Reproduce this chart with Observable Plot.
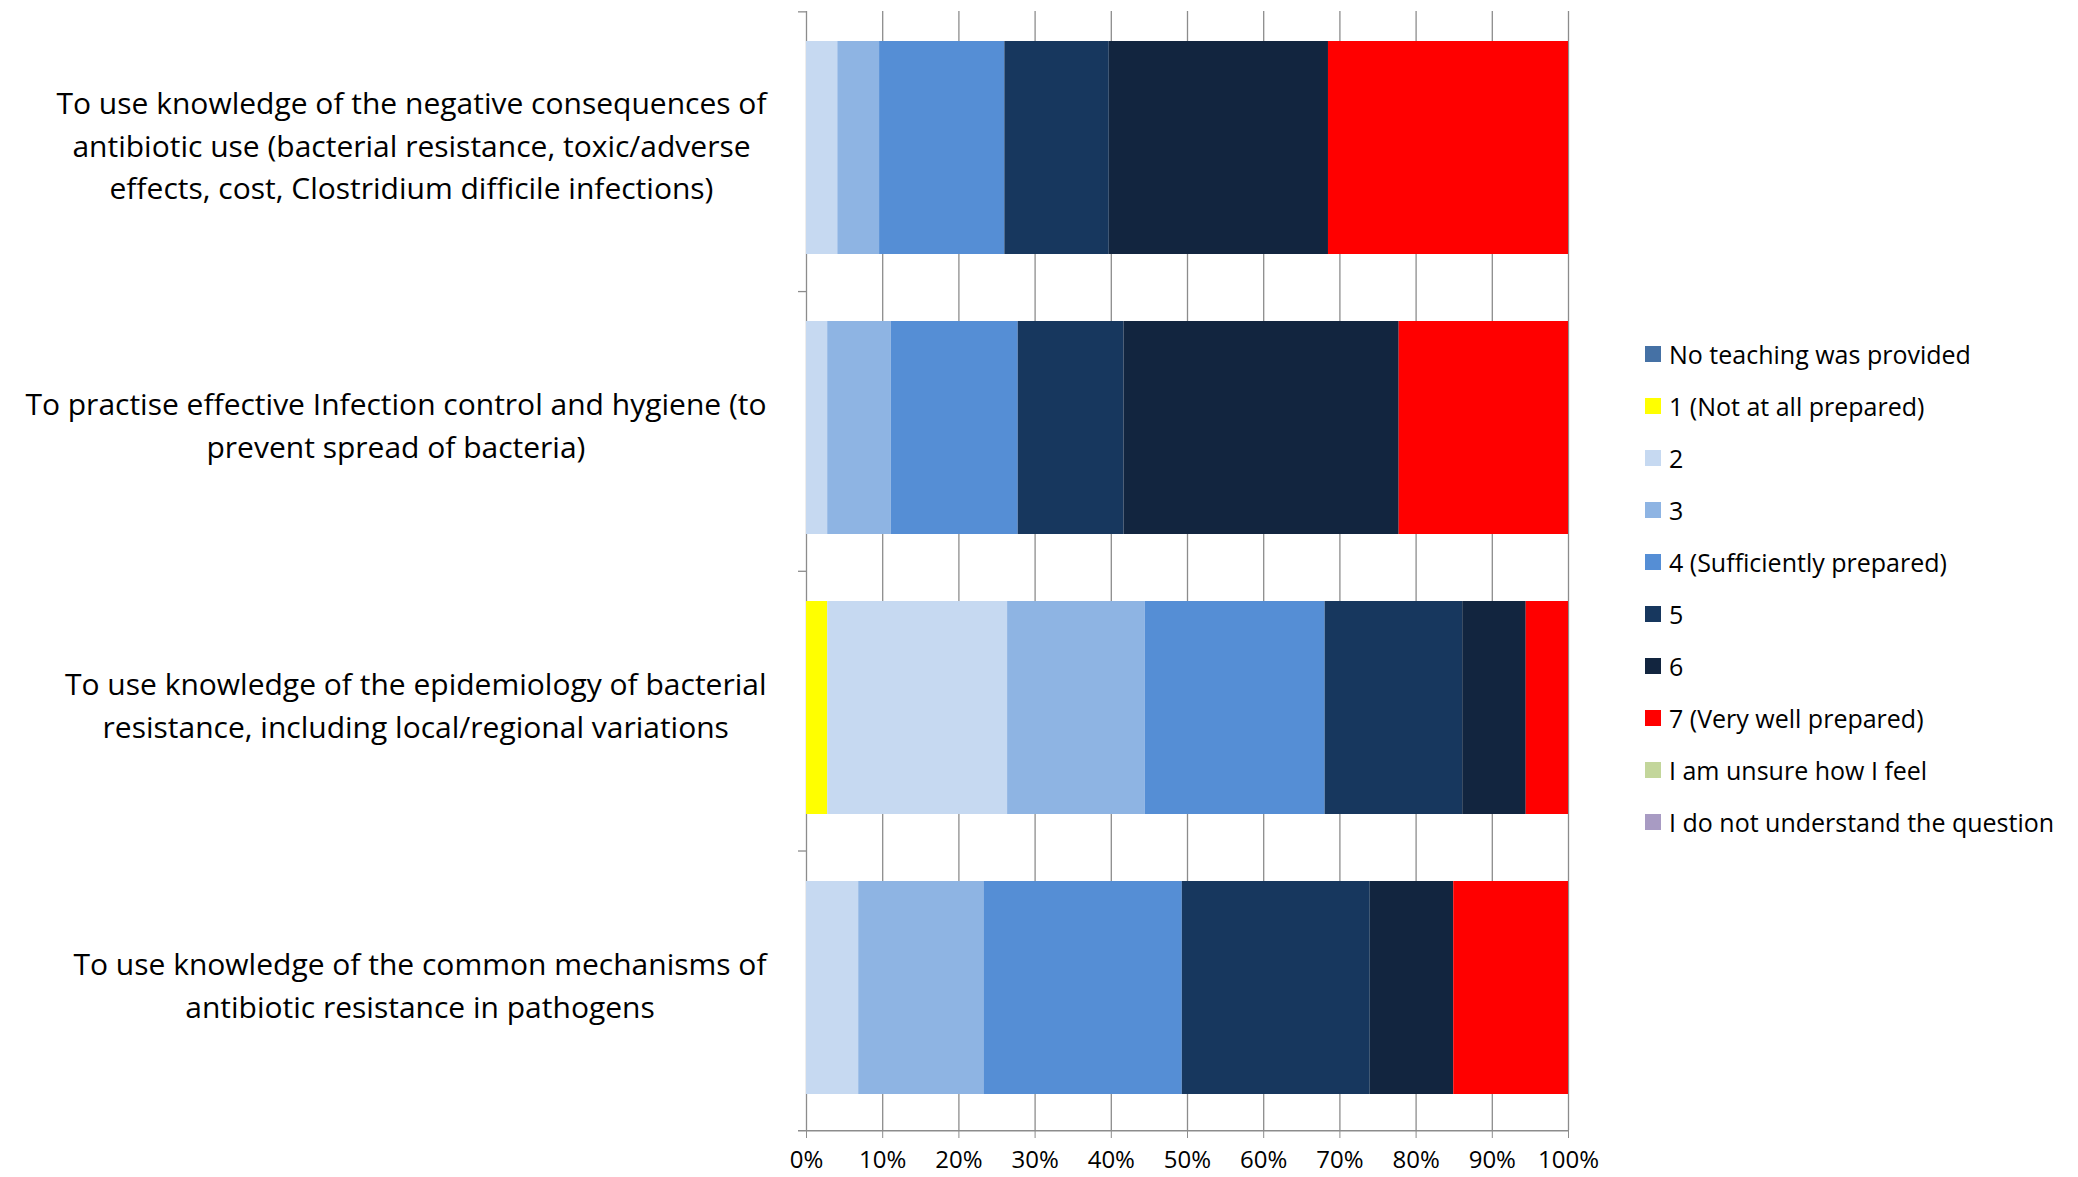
<!DOCTYPE html>
<html><head><meta charset="utf-8">
<script src="https://cdn.jsdelivr.net/npm/d3@7"></script>
<script src="https://cdn.jsdelivr.net/npm/@observablehq/plot@0.6"></script>
<style>
html,body{margin:0;padding:0;background:#fff;}
#wrap{position:relative;width:2078px;height:1177px;overflow:hidden;}
#legend{position:absolute;left:1645px;top:328px;font-family:'Open Sans',sans-serif;font-size:25px;color:#000;}
.li{display:flex;align-items:center;height:52px;white-space:nowrap;}
.sw{width:16px;height:16px;margin-right:8px;flex-shrink:0;}
</style></head><body><div id="wrap"><div id="chart"></div><div id="legend"></div></div>
<script>
// Categories (y axis, top to bottom)
const questions = [
  "To use knowledge of the negative consequences of\nantibiotic use (bacterial resistance, toxic/adverse\neffects, cost, Clostridium difficile infections)",
  "To practise effective Infection control and hygiene (to\nprevent spread of bacteria)",
  "To use knowledge of the epidemiology of bacterial\nresistance, including local/regional variations",
  "To use knowledge of the common mechanisms of\nantibiotic resistance in pathogens"
];
// Series (legend order = stacking order)
const levels = [
  "No teaching was provided", "1 (Not at all prepared)", "2", "3", "4 (Sufficiently prepared)",
  "5", "6", "7 (Very well prepared)", "I am unsure how I feel", "I do not understand the question"
];
const levelColors = ["#4571A5", "#FFFF00", "#C6D9F1", "#8EB4E3", "#558ED5", "#17375E", "#12253F", "#FF0000", "#C3D69B", "#A89BC3"];
// Percent values per question, in the order of `levels`
const q1Values = [0, 0, 4.11, 5.48, 16.44, 13.70, 28.77, 31.50, 0, 0];
const q2Values = [0, 0, 2.78, 8.33, 16.67, 13.89, 36.11, 22.22, 0, 0];
const q3Values = [0, 2.78, 23.61, 18.06, 23.61, 18.06, 8.33, 5.55, 0, 0];
const q4Values = [0, 0, 6.85, 16.44, 26.03, 24.66, 10.96, 15.06, 0, 0];
const xTicks = [0, 10, 20, 30, 40, 50, 60, 70, 80, 90, 100];

const allValues = [q1Values, q2Values, q3Values, q4Values];
const data = questions.flatMap((q, i) => levels.map((lv, j) => ({question: q, level: lv, value: allValues[i][j]})));

const W = 2078, H = 1177, mL = 806, mR = 510, mT = 11, mB = 47;
const pI = 0.24, pO = 0.118, align = 0.45;
const plotH = H - mT - mB;
const step = plotH / (questions.length - pI + 2 * pO);
const leftover = plotH - step * (questions.length - pI);
const catStep = plotH / questions.length;
const grey = "#8c8c8c";
const labelFont = 30;

// offset from each bar centre to the top boundary of its (evenly divided) category slot
const catOffsets = questions.map((q, i) => {
  const barCenter = leftover * align + step * i + step * (1 - pI) / 2;
  return -(barCenter - catStep * i);
});

const ctx = document.createElement("canvas").getContext("2d");
ctx.font = `${labelFont}px 'Open Sans'`;
const labelMarks = questions.map(q => {
  const w = Math.max(...q.split("\n").map(l => ctx.measureText(l).width));
  return Plot.text([q], {
    y: d => d, text: d => d, frameAnchor: "left", textAnchor: "middle",
    dx: -(40 + w / 2), dy: -5, lineHeight: 1.413, fontSize: labelFont, fill: "#000"
  });
});
const catTicks = questions.map((q, i) =>
  Plot.ruleY([q], {y: d => d, x1: -1.05, x2: 0, dy: catOffsets[i], stroke: grey, strokeWidth: 1.3}));
const lastQ = questions[questions.length - 1];

const chart = Plot.plot({
  width: W, height: H,
  marginLeft: mL, marginRight: mR, marginTop: mT, marginBottom: mB,
  style: {fontFamily: "'Open Sans', sans-serif", background: "#fff", color: "#000"},
  x: {domain: [0, 100], label: null},
  y: {domain: questions, paddingInner: pI, paddingOuter: pO, align, axis: null},
  color: {domain: levels, range: levelColors},
  marks: [
    Plot.ruleX(xTicks, {stroke: grey, strokeWidth: 1.3}),
    ...catTicks,
    Plot.ruleY([lastQ], {y: d => d, x1: -1.05, x2: 100, dy: catOffsets[questions.length - 1] + catStep, stroke: grey, strokeWidth: 1.3}),
    Plot.barX(data, {y: "question", x: "value", fill: "level"}),
    Plot.axisX({ticks: xTicks, tickSize: 8, tickPadding: 12, tickFormat: d => d + "%", fontSize: 24, stroke: grey, fill: "#000", label: null}),
    ...labelMarks
  ]
});
document.getElementById("chart").appendChild(chart);

// Legend
const legend = document.getElementById("legend");
levels.forEach((lv, j) => {
  const row = document.createElement("div");
  row.className = "li";
  const sw = document.createElement("span");
  sw.className = "sw";
  sw.style.background = levelColors[j];
  const tx = document.createElement("span");
  tx.textContent = lv;
  row.appendChild(sw); row.appendChild(tx);
  legend.appendChild(row);
});
</script></body></html>
